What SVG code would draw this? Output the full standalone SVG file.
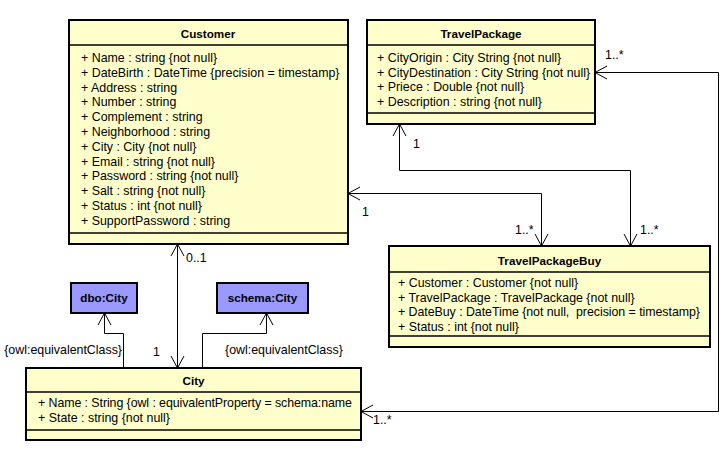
<svg xmlns="http://www.w3.org/2000/svg" width="724" height="449" viewBox="0 0 724 449">
<style>
  .cls { fill: #FFFFCC; stroke: #000; stroke-width: 2; }
  .ont { fill: #9999FF; stroke: #000; stroke-width: 2; }
  .sep { stroke: #000; stroke-width: 1.3; }
  text { font-family: "Liberation Sans", Arial, sans-serif; font-size: 12.4px; fill: #000; white-space: pre; }
  .hd { font-weight: bold; text-anchor: middle; font-size: 11.7px; }
  .conn { fill: none; stroke: #000; stroke-width: 1; }
</style>
<defs>
  <marker id="open" markerUnits="userSpaceOnUse" markerWidth="14" markerHeight="14" refX="12" refY="7" orient="auto-start-reverse" overflow="visible">
    <path d="M0,0.5 L12,7 L0,13.5" fill="none" stroke="#000" stroke-width="1"/>
  </marker>
</defs>
<rect width="724" height="449" fill="#fff"/>

<g id="connectors">
  <path class="conn" d="M177.5,244 L177.5,368" marker-start="url(#open)" marker-end="url(#open)"/>
  <path class="conn" d="M123.5,368 L123.5,333.5 L104.5,333.5 L104.5,313" marker-end="url(#open)"/>
  <path class="conn" d="M202.5,368 L202.5,333.5 L266.5,333.5 L266.5,313" marker-end="url(#open)"/>
  <path class="conn" d="M348,193.5 L541.5,193.5 L541.5,246" marker-start="url(#open)" marker-end="url(#open)"/>
  <path class="conn" d="M399.5,124 L399.5,170.5 L630.5,170.5 L630.5,246" marker-start="url(#open)" marker-end="url(#open)"/>
  <path class="conn" d="M595,72.5 L718.5,72.5 L718.5,411.5 L361,411.5" marker-start="url(#open)" marker-end="url(#open)"/>
  <text x="186" y="262">0..1</text>
  <text x="153" y="356">1</text>
  <text x="122" y="354" text-anchor="end">{owl:equivalentClass}</text>
  <text x="225" y="354">{owl:equivalentClass}</text>
  <text x="362" y="216">1</text>
  <text x="515" y="234">1..*</text>
  <text x="640" y="234">1..*</text>
  <text x="413" y="148">1</text>
  <text x="605" y="59">1..*</text>
  <text x="373" y="424">1..*</text>
</g>

<g id="Customer">
  <rect class="cls" x="69" y="20" width="279" height="224"/>
  <line class="sep" x1="69" y1="45" x2="348" y2="45"/>
  <line class="sep" x1="69" y1="233" x2="348" y2="233"/>
  <text class="hd" x="208" y="38">Customer</text>
  <text x="81" y="62">+ Name : string {not null}</text>
  <text x="81" y="76.8">+ DateBirth : DateTime {precision = timestamp}</text>
  <text x="81" y="91.6">+ Address : string</text>
  <text x="81" y="106.4">+ Number : string</text>
  <text x="81" y="121.2">+ Complement : string</text>
  <text x="81" y="136">+ Neighborhood : string</text>
  <text x="81" y="150.8">+ City : City {not null}</text>
  <text x="81" y="165.6">+ Email : string {not null}</text>
  <text x="81" y="180.4">+ Password : string {not null}</text>
  <text x="81" y="195.2">+ Salt : string {not null}</text>
  <text x="81" y="210">+ Status : int {not null}</text>
  <text x="81" y="224.8">+ SupportPassword : string</text>
</g>

<g id="TravelPackage">
  <rect class="cls" x="367" y="20" width="228" height="104"/>
  <line class="sep" x1="367" y1="45" x2="595" y2="45"/>
  <line class="sep" x1="367" y1="113" x2="595" y2="113"/>
  <text class="hd" x="481" y="38">TravelPackage</text>
  <text x="377" y="62">+ CityOrigin : City String {not null}</text>
  <text x="377" y="76.5">+ CityDestination : City String {not null}</text>
  <text x="377" y="91">+ Priece : Double {not null}</text>
  <text x="377" y="105.5">+ Description : string {not null}</text>
</g>

<g id="TravelPackageBuy">
  <rect class="cls" x="389" y="246" width="321" height="101"/>
  <line class="sep" x1="389" y1="272" x2="710" y2="272"/>
  <line class="sep" x1="389" y1="336" x2="710" y2="336"/>
  <text class="hd" x="549.5" y="265">TravelPackageBuy</text>
  <text x="398" y="287">+ Customer : Customer {not null}</text>
  <text x="398" y="301.5">+ TravelPackage : TravelPackage {not null}</text>
  <text x="398" y="316" textLength="302" lengthAdjust="spacing">+ DateBuy : DateTime {not null,  precision = timestamp}</text>
  <text x="398" y="330.5">+ Status : int {not null}</text>
</g>

<g id="City">
  <rect class="cls" x="26" y="368" width="335" height="72"/>
  <line class="sep" x1="26" y1="392" x2="361" y2="392"/>
  <line class="sep" x1="26" y1="430" x2="361" y2="430"/>
  <text class="hd" x="193.5" y="385">City</text>
  <text x="38" y="407" textLength="314" lengthAdjust="spacing">+ Name : String {owl : equivalentProperty = schema:name</text>
  <text x="38" y="421.5">+ State : string {not null}</text>
</g>

<g id="dbo-City">
  <rect class="ont" x="71" y="283" width="66" height="30"/>
  <text class="hd" x="104" y="302">dbo:City</text>
</g>

<g id="schema-City">
  <rect class="ont" x="217" y="283" width="91" height="30"/>
  <text class="hd" x="262.5" y="302">schema:City</text>
</g>
</svg>
